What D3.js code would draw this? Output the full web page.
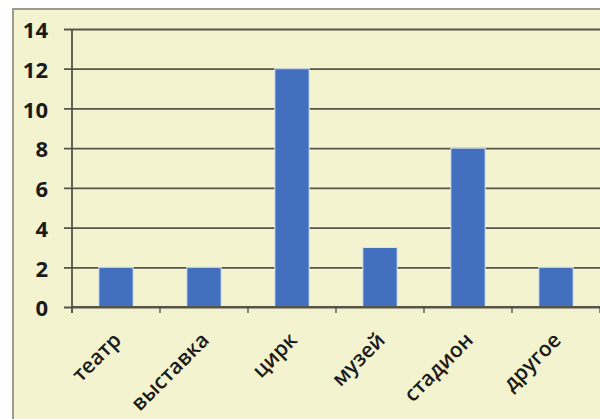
<!DOCTYPE html>
<html>
<head>
<meta charset="utf-8">
<script src="https://cdn.jsdelivr.net/npm/d3@7"></script>
<style>
  body { margin: 0; background: #ffffff; }
  svg { display: block; }
</style>
</head>
<body>
<svg id="chart"></svg>
<script>
// Categories and values
const categories = ["театр", "выставка", "цирк", "музей", "стадион", "другое"];
const values = [2, 2, 12, 3, 8, 2];
const yTicks = [0, 2, 4, 6, 8, 10, 12, 14];

const width = 600;
const height = 419;
const margin = { top: 29, right: 0, bottom: 112, left: 72 };

const svg = d3.select("#chart")
    .attr("width", width)
    .attr("height", height);

// Chart area background with the left/top frame
svg.append("rect")
    .attr("x", 13)
    .attr("y", 9)
    .attr("width", width)
    .attr("height", height)
    .attr("fill", "#f3f3cf")
    .attr("stroke", "#9a9a90")
    .attr("stroke-width", 2);

const plotW = width - margin.left - margin.right;
const plotH = height - margin.top - margin.bottom;

const g = svg.append("g")
    .attr("transform", `translate(${margin.left}, ${margin.top})`);

const x = d3.scaleBand()
    .domain(categories)
    .range([0, plotW])
    .paddingInner(0.61)
    .paddingOuter(0.305);

const y = d3.scaleLinear()
    .domain([0, 14])
    .range([plotH, 0]);

// Gridlines + y ticks
const yAxis = g.append("g")
    .call(d3.axisLeft(y).tickValues(yTicks).tickSize(8).tickPadding(16));
yAxis.select(".domain").remove();
yAxis.selectAll(".tick line")
    .attr("x2", plotW)
    .attr("x1", -8)
    .attr("stroke", "#55554a")
    .attr("stroke-width", 1.8);
yAxis.selectAll("text")
    .attr("dy", "0.4em")
    .style("font-family", "'Open Sans', sans-serif")
    .style("font-size", "22px")
    .style("font-weight", "700")
    .attr("fill", "#1a1a1a");

// Bars
g.selectAll(".bar")
    .data(values)
    .enter()
    .append("rect")
    .attr("class", "bar")
    .attr("x", (d, i) => x(categories[i]))
    .attr("y", d => y(d))
    .attr("width", x.bandwidth())
    .attr("height", d => plotH - y(d))
    .attr("fill", "#4270bf")
    .attr("stroke", "#dde8f0")
    .attr("stroke-width", 1);

// Y axis line
g.append("line")
    .attr("x1", 0).attr("x2", 0)
    .attr("y1", 0).attr("y2", plotH + 6)
    .attr("stroke", "#55554a")
    .attr("stroke-width", 1.8);

// X axis line with tick marks between categories
const step = x.step();
const xAxis = g.append("g")
    .attr("transform", `translate(0, ${plotH})`);
xAxis.append("line")
    .attr("x1", 0).attr("x2", plotW)
    .attr("stroke", "#55554a")
    .attr("stroke-width", 1.8);
xAxis.selectAll(".xtick")
    .data(d3.range(categories.length + 1))
    .enter()
    .append("line")
    .attr("class", "xtick")
    .attr("x1", i => i * step)
    .attr("x2", i => i * step)
    .attr("y1", 0)
    .attr("y2", 6)
    .attr("stroke", "#55554a")
    .attr("stroke-width", 1.4);

// Rotated category labels
xAxis.selectAll(".xlabel")
    .data(categories)
    .enter()
    .append("text")
    .attr("class", "xlabel")
    .attr("transform", d => `translate(${x(d) + x.bandwidth() / 2 - 4}, 24) rotate(-45)`)
    .attr("text-anchor", "end")
    .attr("dy", "0.7em")
    .style("font-family", "'Open Sans', sans-serif")
    .style("font-size", "21px")
    .style("font-weight", "600")
    .attr("fill", "#1a1a1a")
    .text(d => d);
</script>
</body>
</html>
